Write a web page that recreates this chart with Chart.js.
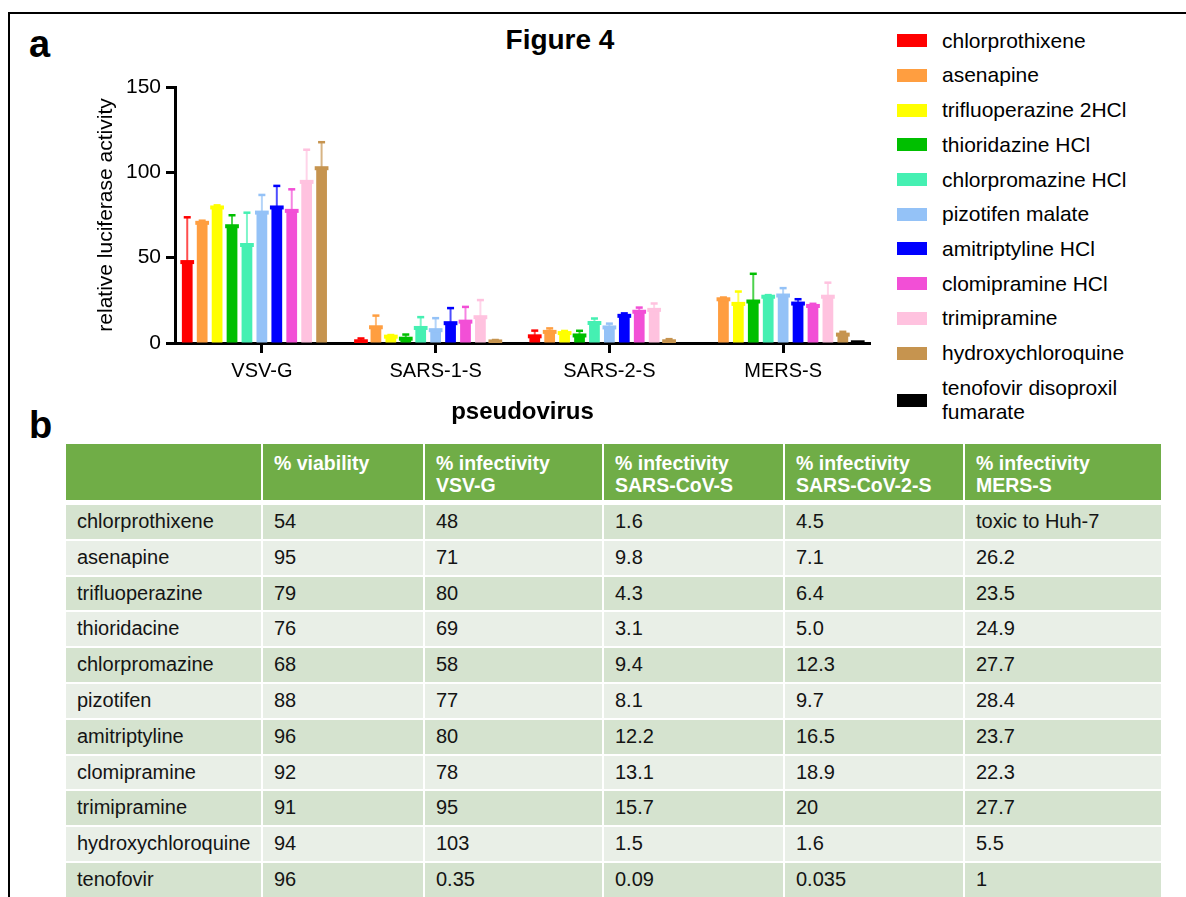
<!DOCTYPE html>
<html>
<head>
<meta charset="utf-8">
<title>Figure 4</title>
<script src="https://cdn.jsdelivr.net/npm/chart.js@4.4.1/dist/chart.umd.min.js"></script>
<style>
  html, body { margin: 0; padding: 0; background: #fff; }
  body {
    width: 1186px; height: 897px; position: relative; overflow: hidden;
    font-family: "Liberation Sans", Arial, Helvetica, sans-serif; color: #000;
  }
  #frame {
    position: absolute; left: 8px; top: 12px; right: 0; bottom: 0;
    border-top: 2px solid #000; border-left: 2px solid #000;
  }
  .panel { position: absolute; font-weight: bold; font-size: 38px; line-height: 38px; }
  #figTitle {
    position: absolute; left: 460px; width: 200px; top: 25px;
    text-align: center; font-weight: bold; font-size: 28px; line-height: 30px;
  }
  #chartBox { position: absolute; left: 0; top: 0; width: 880px; height: 430px; }
  #legend { position: absolute; left: 897px; top: 0; width: 289px; height: 430px; }
  .sw { position: absolute; left: 0; width: 30px; height: 13px; }
  .lt { position: absolute; left: 45px; font-size: 21px; line-height: 24px; white-space: nowrap; }
  #tbl {
    position: absolute; left: 66px; top: 444px;
    display: grid;
    grid-template-columns: 195px 160px 177px 179px 178px 196px;
    grid-template-rows: 59px repeat(11, 33.8px);
    column-gap: 2px; row-gap: 2px;
  }
  #tbl .h {
    background: #70ad47; color: #fff; font-weight: bold; font-size: 19.5px;
    line-height: 22px; padding: 8px 0 0 11px; box-sizing: border-box; white-space: pre-line;
    margin-bottom: 3px;
  }
  #tbl .c {
    font-size: 20px; line-height: 33.8px; padding-left: 11px; box-sizing: border-box;
    color: #141414; white-space: nowrap;
  }
  #tbl .odd { background: #d5e3cf; }
  #tbl .even { background: #e9efe7; }
</style>
</head>
<body>
<div id="frame"></div>
<div class="panel" style="left:29px;top:25px;">a</div>
<div class="panel" style="left:29px;top:406px;">b</div>
<div id="figTitle">Figure 4</div>
<div id="chartBox"><canvas id="chart"></canvas></div>
<div id="legend"></div>
<div id="tbl"></div>

<script>
// Pseudovirus categories on the x axis
const categories = ['VSV-G', 'SARS-1-S', 'SARS-2-S', 'MERS-S'];

// Compounds as named in the chart legend, and their bar colours
const legendNames = [
  'chlorprothixene', 'asenapine', 'trifluoperazine 2HCl', 'thioridazine HCl',
  'chlorpromazine HCl', 'pizotifen malate', 'amitriptyline HCl', 'clomipramine HCl',
  'trimipramine', 'hydroxychloroquine', 'tenofovir disoproxil fumarate'
];
const barColors = [
  '#ff0000', '#ff9e40', '#ffff00', '#00bf00', '#45f0b2', '#94c2f7',
  '#0000ff', '#f24fd6', '#ffc2df', '#c6944f', '#000000'
];

// Compounds as named in the table
const tableNames = [
  'chlorprothixene', 'asenapine', 'trifluoperazine', 'thioridacine', 'chlorpromazine',
  'pizotifen', 'amitriptyline', 'clomipramine', 'trimipramine', 'hydroxychloroquine', 'tenofovir'
];

// Table columns (text as printed); the bars are drawn from the same values
const viability = ['54', '95', '79', '76', '68', '88', '96', '92', '91', '94', '96'];
const infVSV    = ['48', '71', '80', '69', '58', '77', '80', '78', '95', '103', '0.35'];
const infSARS1  = ['1.6', '9.8', '4.3', '3.1', '9.4', '8.1', '12.2', '13.1', '15.7', '1.5', '0.09'];
const infSARS2  = ['4.5', '7.1', '6.4', '5.0', '12.3', '9.7', '16.5', '18.9', '20', '1.6', '0.035'];
const infMERS   = ['toxic to Huh-7', '26.2', '23.5', '24.9', '27.7', '28.4', '23.7', '22.3', '27.7', '5.5', '1'];

// Upper error (SD) for each bar
const errVSV   = [25.8, 0.8, 0.8, 6.0, 18.5, 9.9, 12.2, 12.2, 18.4, 14.8, 0];
const errSARS1 = [1.2, 6.4, 0.5, 2.0, 5.9, 6.6, 8.4, 8.2, 9.6, 0.4, 0];
const errSARS2 = [2.9, 1.6, 0.8, 2.3, 2.2, 1.8, 1.0, 2.0, 3.3, 0.8, 0];
const errMERS  = [0, 0.6, 6.8, 15.8, 0.5, 3.9, 2.1, 0.8, 7.8, 1.2, 0];

// Table header labels
const tableHeaders = [
  '', '% viability', '% infectivity\nVSV-G', '% infectivity\nSARS-CoV-S',
  '% infectivity\nSARS-CoV-2-S', '% infectivity\nMERS-S'
];

// y axis settings
const yMax = 150;
const yStep = 50;

const toValue = s => { const n = Number(s); return Number.isFinite(n) ? n : null; };

function lighten(hex, amt) {
  const n = parseInt(hex.slice(1), 16);
  const r = (n >> 16) & 255, g = (n >> 8) & 255, b = n & 255;
  const m = c => Math.round(c + (255 - c) * amt);
  return `rgb(${m(r)},${m(g)},${m(b)})`;
}

const datasets = legendNames.map((name, i) => ({
  label: name,
  data: [infVSV[i], infSARS1[i], infSARS2[i], infMERS[i]].map(toValue),
  errors: [errVSV[i], errSARS1[i], errSARS2[i], errMERS[i]],
  backgroundColor: barColors[i],
  borderWidth: 0
}));

// Draws the widened top edge of each bar and its upward error whisker
const barDecor = {
  id: 'barDecor',
  afterDatasetsDraw(chart) {
    const ctx = chart.ctx;
    const ys = chart.scales.y;
    ctx.save();
    chart.data.datasets.forEach((ds, di) => {
      const meta = chart.getDatasetMeta(di);
      meta.data.forEach((bar, j) => {
        const v = ds.data[j];
        if (v == null) return;
        const top = bar.y;
        const e = ds.errors[j];
        if (e > 0) {
          const yt = ys.getPixelForValue(v + e);
          ctx.strokeStyle = lighten(ds.backgroundColor, 0.3);
          ctx.lineWidth = 2;
          ctx.beginPath();
          ctx.moveTo(bar.x, top);
          ctx.lineTo(bar.x, yt);
          ctx.stroke();
          ctx.fillStyle = ds.backgroundColor;
          ctx.fillRect(bar.x - 3.5, yt - 1, 7, 2.5);
        }
        const barPx = bar.base - top;
        if (barPx < 1) return;
        const h = Math.min(4, barPx + 1.5);
        ctx.fillStyle = ds.backgroundColor;
        ctx.fillRect(bar.x - bar.width / 2 - 1.5, top - 1, bar.width + 3, h);
      });
    });
    ctx.restore();
  }
};

const tickGrid = {
  display: true, drawOnChartArea: false, drawTicks: true,
  tickLength: 9, tickWidth: 3, tickColor: '#000'
};

new Chart(document.getElementById('chart'), {
  type: 'bar',
  data: { labels: categories, datasets },
  options: {
    responsive: true,
    maintainAspectRatio: false,
    animation: false,
    layout: { padding: { top: 87, right: 10, left: 0, bottom: 0 } },
    datasets: { bar: { categoryPercentage: 0.945, barPercentage: 0.72 } },
    plugins: { legend: { display: false }, tooltip: { enabled: false } },
    scales: {
      x: {
        grid: Object.assign({}, tickGrid, { offset: false, tickLength: 10 }),
        border: { display: true, width: 3, color: '#000' },
        ticks: { color: '#000', font: { size: 20, family: '"Liberation Sans", Arial' }, padding: 6, maxRotation: 0 },
        title: {
          display: true, text: 'pseudovirus', color: '#000',
          font: { size: 24, weight: 'bold', family: '"Liberation Sans", Arial' },
          padding: { top: 0, bottom: 3 }
        },
        afterFit(scale) { scale.height = 87; }
      },
      y: {
        min: 0, max: yMax,
        grid: tickGrid,
        border: { display: true, width: 3, color: '#000' },
        ticks: { stepSize: yStep, color: '#000', font: { size: 21, family: '"Liberation Sans", Arial' }, padding: 5 },
        title: {
          display: true, text: 'relative luciferase activity', color: '#000',
          font: { size: 21, family: '"Liberation Sans", Arial' },
          padding: { top: 94, bottom: 0 }
        },
        afterFit(scale) { scale.width = 175; }
      }
    }
  },
  plugins: [barDecor]
});

// Legend
const legend = document.getElementById('legend');
legendNames.forEach((name, i) => {
  const last = i === legendNames.length - 1;
  const cy = last ? 400 : 40.7 + 34.7 * i;
  const sw = document.createElement('div');
  sw.className = 'sw';
  sw.style.top = (cy - 6.5) + 'px';
  sw.style.background = barColors[i];
  legend.appendChild(sw);
  const t = document.createElement('div');
  t.className = 'lt';
  if (last) {
    t.style.top = (cy - 24) + 'px';
    t.innerHTML = 'tenofovir disoproxil<br>fumarate';
  } else {
    t.style.top = (cy - 12) + 'px';
    t.textContent = name;
  }
  legend.appendChild(t);
});

// Table
const tbl = document.getElementById('tbl');
tableHeaders.forEach(h => {
  const d = document.createElement('div');
  d.className = 'h';
  d.textContent = h;
  tbl.appendChild(d);
});
tableNames.forEach((name, i) => {
  const row = [name, viability[i], infVSV[i], infSARS1[i], infSARS2[i], infMERS[i]];
  row.forEach(txt => {
    const d = document.createElement('div');
    d.className = 'c ' + (i % 2 === 0 ? 'odd' : 'even');
    d.textContent = txt;
    tbl.appendChild(d);
  });
});
</script>
</body>
</html>
